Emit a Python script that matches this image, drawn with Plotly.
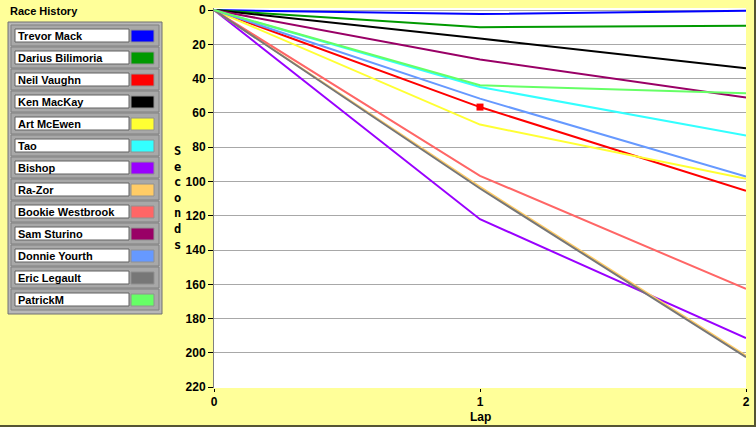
import plotly.graph_objects as go

# race data
racers = ["Trevor Mack", "Darius Bilimoria", "Neil Vaughn", "Ken MacKay",
          "Art McEwen", "Tao", "Bishop", "Ra-Zor", "Bookie Westbrook",
          "Sam Sturino", "Donnie Yourth", "Eric Legault", "PatrickM"]
colors = ["#0000FF", "#009900", "#FF0000", "#000000", "#FFFF33", "#33FFFF",
          "#9900FF", "#FFCC66", "#FF6666", "#990066", "#6699FF", "#777777",
          "#66FF66"]
laps = [0, 1, 2]
lap0_secs = [0] * 13
lap1_secs = [2.3, 10.0, 56.6, 16.6, 66.8, 44.9, 122.0, 103.1, 96.7, 28.9, 51.7, 104.1, 43.9]
lap2_secs = [0.4, 9.2, 105.4, 34.0, 98.4, 73.2, 191.4, 201.7, 162.7, 51.0, 97.2, 202.5, 48.6]

W, H = 756, 427
L, R, T, B = 214, 10, 8, 39
PW, PH = W - L - R, H - T - B
FONT = "Liberation Sans"


def px(x):
    return (x - L) / PW


def py(y):
    return (H - B - y) / PH


fig = go.Figure()

for name, col, a, b, c in zip(racers, colors, lap0_secs, lap1_secs, lap2_secs):
    fig.add_trace(go.Scatter(x=laps, y=[a, b, c], mode="lines", name=name,
                             line=dict(color=col, width=2)))

# cursor marker on Neil Vaughn at lap 1
i = racers.index("Neil Vaughn")
fig.add_trace(go.Scatter(x=[laps[1]], y=[lap1_secs[i]], mode="markers",
                         marker=dict(symbol="square", size=7, color="#FF0000"),
                         showlegend=False))

shapes = []
annots = []

# legend panel drawn by hand
shapes.append(dict(type="rect", xref="paper", yref="paper",
                   x0=px(8), x1=px(162), y0=py(314), y1=py(22),
                   fillcolor="#B8B8B8", line=dict(color="#707070", width=1)))
for k, (name, col) in enumerate(zip(racers, colors)):
    top = 25 + 22 * k
    shapes.append(dict(type="rect", xref="paper", yref="paper",
                       x0=px(11), x1=px(159), y0=py(top + 21), y1=py(top),
                       fillcolor="#A8A8A8", line=dict(color="#808080", width=1)))
    shapes.append(dict(type="rect", xref="paper", yref="paper",
                       x0=px(15), x1=px(129), y0=py(top + 17), y1=py(top + 4),
                       fillcolor="white", line=dict(color="#606060", width=1)))
    shapes.append(dict(type="rect", xref="paper", yref="paper",
                       x0=px(131), x1=px(154), y0=py(top + 17), y1=py(top + 5),
                       fillcolor=col, line=dict(color="#909090", width=1)))
    annots.append(dict(text="<b>%s</b>" % name, xref="paper", yref="paper",
                       x=px(16), y=py(top + 11), xanchor="left", yanchor="middle",
                       showarrow=False, font=dict(size=11, color="black")))

annots.append(dict(text="<b>Race History</b>", xref="paper", yref="paper",
                   x=px(8), y=py(11), xanchor="left", yanchor="middle",
                   showarrow=False, font=dict(size=11, color="black")))
annots.append(dict(text="<b>S<br>e<br>c<br>o<br>n<br>d<br>s</b>", xref="paper",
                   yref="paper", x=px(177), y=py(198), xanchor="center",
                   yanchor="middle", showarrow=False,
                   font=dict(size=12, color="black", family="DejaVu Sans Mono")))
annots.append(dict(text="<b>Lap</b>", xref="paper", yref="paper",
                   x=px(480), y=py(417), xanchor="center", yanchor="middle",
                   showarrow=False, font=dict(size=12, color="black")))

# outer dark frame
shapes.append(dict(type="line", xref="paper", yref="paper",
                   x0=px(755), x1=px(755), y0=py(0), y1=py(426),
                   line=dict(color="#555533", width=2)))
shapes.append(dict(type="line", xref="paper", yref="paper",
                   x0=px(0), x1=px(756), y0=py(426), y1=py(426),
                   line=dict(color="#555533", width=2)))

fig.update_layout(
    width=W, height=H,
    margin=dict(l=L, r=R, t=T, b=B),
    paper_bgcolor="#FFFF99",
    plot_bgcolor="white",
    showlegend=False,
    font=dict(family=FONT, size=11, color="black"),
    shapes=shapes,
    annotations=annots,
    xaxis=dict(range=[0, 2], tickvals=[0, 1, 2], showgrid=False, zeroline=False,
               ticks="outside", ticklen=3, tickcolor="black",
               tickfont=dict(size=12, weight="bold"),
               automargin=False, showline=False),
    yaxis=dict(range=[220.5, -1.2], tickvals=list(range(0, 221, 20)),
               showgrid=True, gridcolor="#A8A8A8", gridwidth=1, zeroline=False,
               ticks="outside", ticklen=5, tickcolor="black",
               tickfont=dict(size=12, weight="bold"), automargin=False,
               showline=True, linecolor="#808080", linewidth=1),
)

fig.write_html("out.html", config={"displayModeBar": False},
               post_script="document.body.style.margin='0';"
                           "document.body.style.background='#FFFF99';")
